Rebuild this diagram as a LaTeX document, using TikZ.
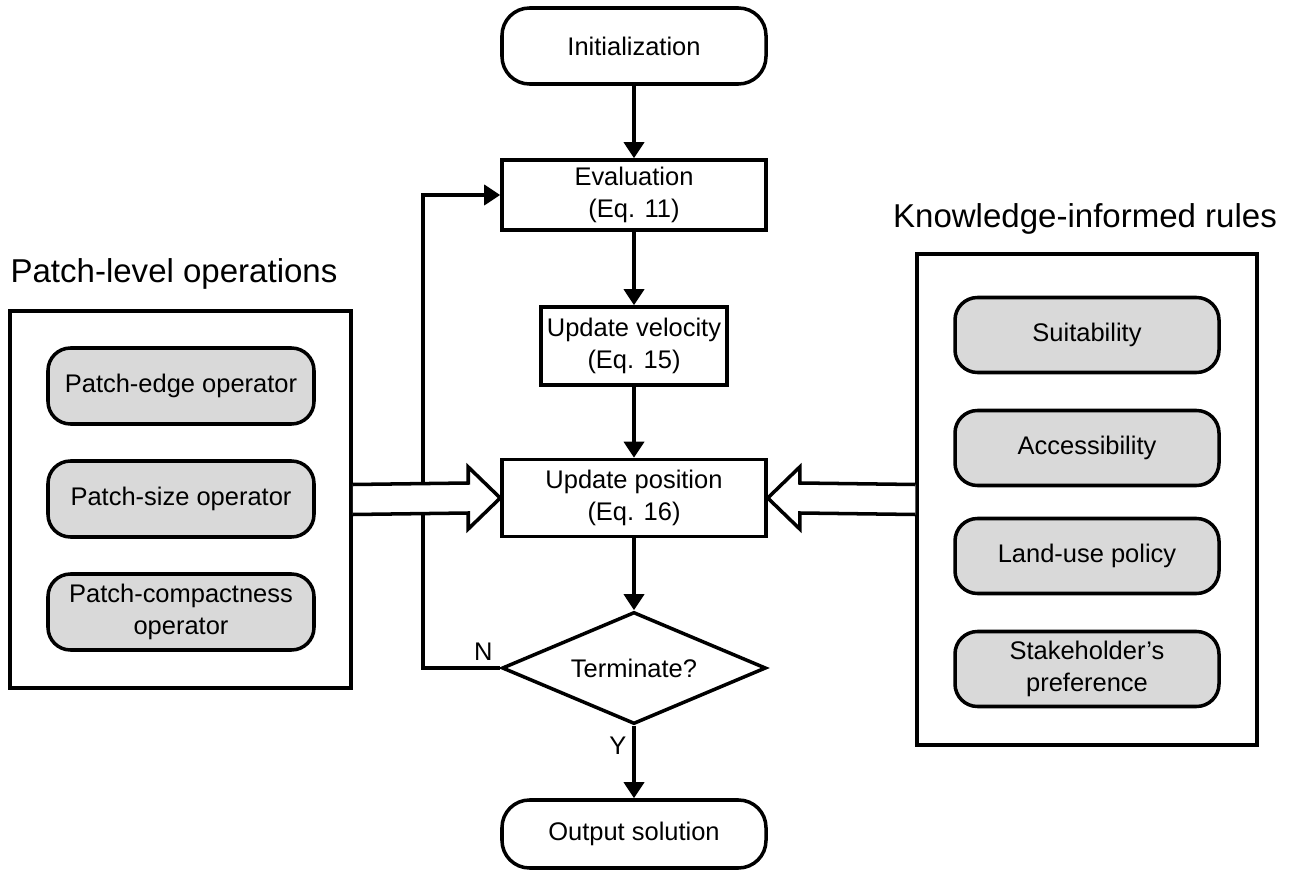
\documentclass[tikz,border=0pt]{standalone}
\usepackage{fontspec}
\setmainfont{Liberation Sans}
\usetikzlibrary{shapes,arrows.meta,calc}

\newcommand{\flowfont}{\fontsize{14.5}{18.5}\selectfont}
\newcommand{\headfont}{\fontsize{18.8}{22}\selectfont}

\tikzset{
  termbox/.style={draw, rounded corners=0.55cm, minimum width=5.28cm, align=center, font=\flowfont},
  procbox/.style={draw, minimum width=5.28cm, align=center, font=\flowfont},
  rulebox/.style={draw, fill=gray!30, rounded corners=0.45cm, minimum height=1.5cm, align=center, font=\flowfont},
  groupbox/.style={draw},
  flow/.style={-{Triangle[length=0.32cm, width=0.4cm]}},
  hollow/.style={draw, fill=white, line join=miter}
}

\begin{document}
\begin{tikzpicture}[line width=2pt]
      \useasboundingbox (0,0) rectangle (25.86,-17.56);

      % main flow
      \node[termbox, minimum height=1.52cm] (init) at (12.68,-0.92) {Initialization};
      \node[procbox, minimum height=1.4cm] (eval) at (12.68,-3.9) {Evaluation\\(Eq. 11)};
      \node[procbox, minimum width=2.96cm, minimum height=1.56cm] (vel) at (12.68,-6.92) {Update velocity\\(Eq. 15)};
      \node[procbox, minimum height=1.54cm] (pos) at (12.68,-9.96) {Update position\\(Eq. 16)};
      \node[draw, diamond, aspect=2.36, inner sep=0pt, minimum width=5.28cm, minimum height=2.24cm, font=\flowfont] (term) at (12.68,-13.36) {Terminate?};
      \node[termbox, minimum height=1.36cm] (out) at (12.68,-16.68) {Output solution};

      % patch-level operations
      \node[font=\headfont, anchor=base] (ltitle) at (3.48,-5.66) {Patch-level operations};
      \node[groupbox, minimum width=6.82cm, minimum height=7.54cm] (lbox) at (3.61,-9.99) {};
      \node[rulebox, minimum width=5.32cm, minimum height=1.52cm] (edge) at (3.62,-7.72) {Patch-edge operator};
      \node[rulebox, minimum width=5.32cm, minimum height=1.52cm] (size) at (3.62,-9.98) {Patch-size operator};
      \node[rulebox, minimum width=5.32cm, minimum height=1.52cm] (compact) at (3.62,-12.24) {Patch-compactness\\operator};

      % knowledge-informed rules
      \node[font=\headfont, anchor=base] (rtitle) at (21.7,-4.56) {Knowledge-informed rules};
      \node[groupbox, minimum width=6.8cm, minimum height=9.82cm] (rbox) at (21.74,-9.99) {};
      \node[rulebox, minimum width=5.28cm] (suit) at (21.74,-6.7) {Suitability};
      \node[rulebox, minimum width=5.28cm] (access) at (21.74,-8.96) {Accessibility};
      \node[rulebox, minimum width=5.28cm] (policy) at (21.74,-11.12) {Land-use policy};
      \node[rulebox, minimum width=5.28cm] (pref) at (21.74,-13.38) {Stakeholder’s\\preference};

      \draw[flow] (init) -- (eval);
      \draw[flow] (eval) -- (vel);
      \draw[flow] (vel) -- (pos);
      \draw[flow] (pos) -- (term);
      \draw[flow] (term) -- (out) node[pos=0.28, left, font=\flowfont] {Y};
      \draw[flow] (term.west) -- ++(-1.54,0) |- (eval.west);
      \node[above left, font=\flowfont] (no) at (term.west) {N};

      % hollow arrows
      \draw[hollow] ($(lbox.east)+(0,0.3)$) -- ($(pos.west)+(-0.64,0.3)$) -- ($(pos.west)+(-0.64,0.62)$)
        -- (pos.west) -- ($(pos.west)+(-0.64,-0.62)$) -- ($(pos.west)+(-0.64,-0.3)$) -- ($(lbox.east)+(0,-0.3)$);
      \draw[hollow] ($(rbox.west)+(0,0.3)$) -- ($(pos.east)+(0.64,0.3)$) -- ($(pos.east)+(0.64,0.62)$)
        -- (pos.east) -- ($(pos.east)+(0.64,-0.62)$) -- ($(pos.east)+(0.64,-0.3)$) -- ($(rbox.west)+(0,-0.3)$);
    \end{tikzpicture}
\end{document}
